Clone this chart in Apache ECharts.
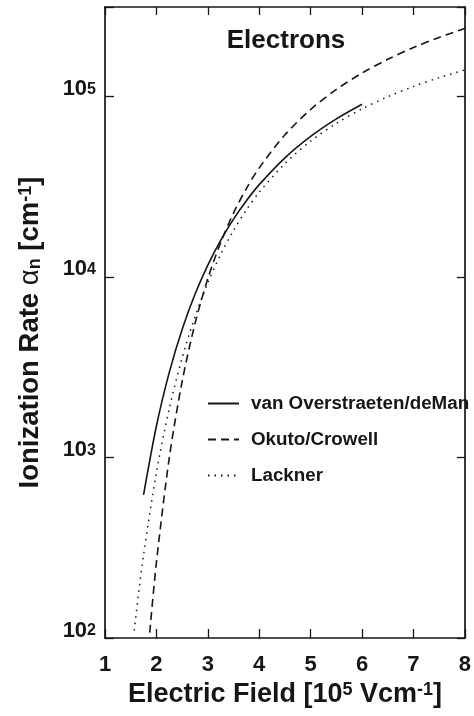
<!DOCTYPE html>
<html><head><meta charset="utf-8">
<script src="https://cdn.jsdelivr.net/npm/echarts@6/dist/echarts.min.js"></script>
<style>html,body{margin:0;padding:0;background:#fff}#c{width:474px;height:716px}</style>
</head><body><div id="c"></div>
<script>
const FONT = '"Liberation Sans", Arial, Helvetica, sans-serif';
const INK = '#161616';

const seriesNames = ['van Overstraeten/deMan', 'Okuto/Crowell', 'Lackner'];

// van Overstraeten/deMan (solid)
const fieldVOD = [1.75, 2, 2.25, 2.5, 2.75, 3, 3.25, 3.5, 3.75, 4, 4.5, 5, 5.5, 6];
const rateVOD  = [620, 1492, 2958, 5111, 8002, 11614, 15922, 20871, 26381, 32390, 45594, 59939, 74975, 90347];

// Okuto/Crowell (dashed)
const fieldOC = [1.87, 2, 2.25, 2.5, 2.75, 3, 3.25, 3.5, 3.75, 4, 4.5, 5, 5.5, 6, 6.5, 7, 7.5, 8];
const rateOC  = [107, 262, 993, 2628, 5497, 9774, 15489, 22554, 30827, 40129, 61156, 84424, 109048, 134417, 160140, 185972, 211758, 237412];

// Lackner (dotted)
const fieldLK = [1.57, 1.65, 1.75, 2, 2.25, 2.5, 2.75, 3, 3.25, 3.5, 3.75, 4, 4.5, 5, 5.5, 6, 6.5, 7, 7.5, 8];
const rateLK  = [110, 174, 289, 825, 1861, 3554, 6008, 9265, 13306, 18070, 23464, 29390, 42407, 56387, 70762, 85162, 99365, 113236, 126713, 139770];

const xTickLabels = ['1', '2', '3', '4', '5', '6', '7', '8'];
const yTickValues = [100, 1000, 10000, 100000];
const yTickExponents = ['2', '3', '4', '5'];

const xMin = 1, xMax = 8, yMin = 100, yMax = 312000;

function pairs(xs, ys) { return xs.map((x, i) => [x, ys[i]]); }

function yLabel(v) {
  const i = yTickValues.findIndex(t => Math.abs(t - v) / t < 1e-6);
  if (i < 0) return '';
  return '{b|10}{s|' + yTickExponents[i] + '}';
}

const chart = echarts.init(document.getElementById('c'), null, { renderer: 'canvas' });

const axisLine = { show: true, lineStyle: { color: INK, width: 1.7 } };
const tickStyle = { color: INK, width: 1.3 };

chart.setOption({
  animation: false,
  backgroundColor: '#ffffff',
  grid: { left: 105, right: 8, top: 7, bottom: 78, containLabel: false },
  graphic: [{
    type: 'text', x: 286, y: 41,
    style: { text: 'Electrons', font: 'bold 26px ' + FONT, fill: INK, textAlign: 'center', textVerticalAlign: 'middle' }
  }],
  legend: {
    orient: 'vertical',
    left: 207, top: 394, padding: 0,
    itemWidth: 31, itemHeight: 14, itemGap: 17,
    data: seriesNames,
    itemStyle: { opacity: 0 },
    textStyle: { fontFamily: FONT, fontSize: 18.8, fontWeight: 'bold', color: INK, padding: [0, 0, 0, 7] }
  },
  xAxis: [{
    type: 'value', position: 'bottom', min: xMin, max: xMax, interval: 1,
    axisLine: axisLine,
    axisTick: { inside: true, length: 9, lineStyle: tickStyle },
    splitLine: { show: false },
    axisLabel: {
      margin: 16, fontFamily: FONT, fontSize: 22, fontWeight: 'bold', color: INK,
      formatter: v => xTickLabels[Math.round(v) - 1] || ''
    },
    name: '{b|Electric Field [10}{s|5}{b| Vcm}{s|-1}{b|]}',
    nameLocation: 'middle', nameGap: 42,
    nameTextStyle: {
      rich: {
        b: { fontFamily: FONT, fontSize: 27, fontWeight: 'bold', color: INK, lineHeight: 27 },
        s: { fontFamily: FONT, fontSize: 18, fontWeight: 'bold', color: INK, lineHeight: 10, verticalAlign: 'top' }
      }
    }
  }, {
    type: 'value', position: 'top', min: xMin, max: xMax, interval: 1,
    axisLine: axisLine,
    axisTick: { inside: true, length: 8, lineStyle: tickStyle },
    axisLabel: { show: false },
    splitLine: { show: false }
  }],
  yAxis: [{
    type: 'log', logBase: 10, position: 'left', min: yMin, max: yMax,
    axisLine: axisLine,
    axisTick: { inside: true, length: 9, lineStyle: tickStyle },
    minorTick: { show: false },
    splitLine: { show: false },
    axisLabel: {
      margin: 9, verticalAlign: 'bottom',
      formatter: yLabel,
      rich: {
        b: { fontFamily: FONT, fontSize: 22, fontWeight: 'bold', color: INK, lineHeight: 15 },
        s: { fontFamily: FONT, fontSize: 16, fontWeight: 'bold', color: INK, lineHeight: 8, verticalAlign: 'top' }
      }
    },
    name: '{b|Ionization Rate }{a|α}{n|n}{b| [cm}{s|-1}{b|]}',
    nameLocation: 'middle', nameGap: 61,
    nameTextStyle: {
      padding: [0, 20, 0, 0],
      rich: {
        b: { fontFamily: FONT, fontSize: 27.5, fontWeight: 'bold', color: INK, lineHeight: 27 },
        a: { fontFamily: FONT, fontSize: 27.5, fontWeight: 'normal', color: INK, lineHeight: 27 },
        n: { fontFamily: FONT, fontSize: 18, fontWeight: 'bold', color: INK, lineHeight: 10, verticalAlign: 'bottom' },
        s: { fontFamily: FONT, fontSize: 18, fontWeight: 'bold', color: INK, lineHeight: 10, verticalAlign: 'top' }
      }
    }
  }, {
    type: 'log', logBase: 10, position: 'right', min: yMin, max: yMax,
    axisLine: axisLine,
    axisTick: { inside: true, length: 8, lineStyle: tickStyle },
    axisLabel: { show: false },
    splitLine: { show: false }
  }],
  series: [{
    name: seriesNames[0], type: 'line', xAxisIndex: 0, yAxisIndex: 0,
    data: pairs(fieldVOD, rateVOD), smooth: 0.3, symbol: 'none',
    lineStyle: { color: INK, width: 1.6, type: 'solid' }, itemStyle: { color: INK }
  }, {
    name: seriesNames[1], type: 'line', xAxisIndex: 0, yAxisIndex: 0,
    data: pairs(fieldOC, rateOC), smooth: 0.3, symbol: 'none',
    lineStyle: { color: INK, width: 1.6, type: [8, 5] }, itemStyle: { color: INK }
  }, {
    name: seriesNames[2], type: 'line', xAxisIndex: 0, yAxisIndex: 0,
    data: pairs(fieldLK, rateLK), smooth: 0.3, symbol: 'none',
    lineStyle: { color: INK, width: 1.5, type: [1.5, 5] }, itemStyle: { color: INK }
  }]
});
</script>
</body></html>
